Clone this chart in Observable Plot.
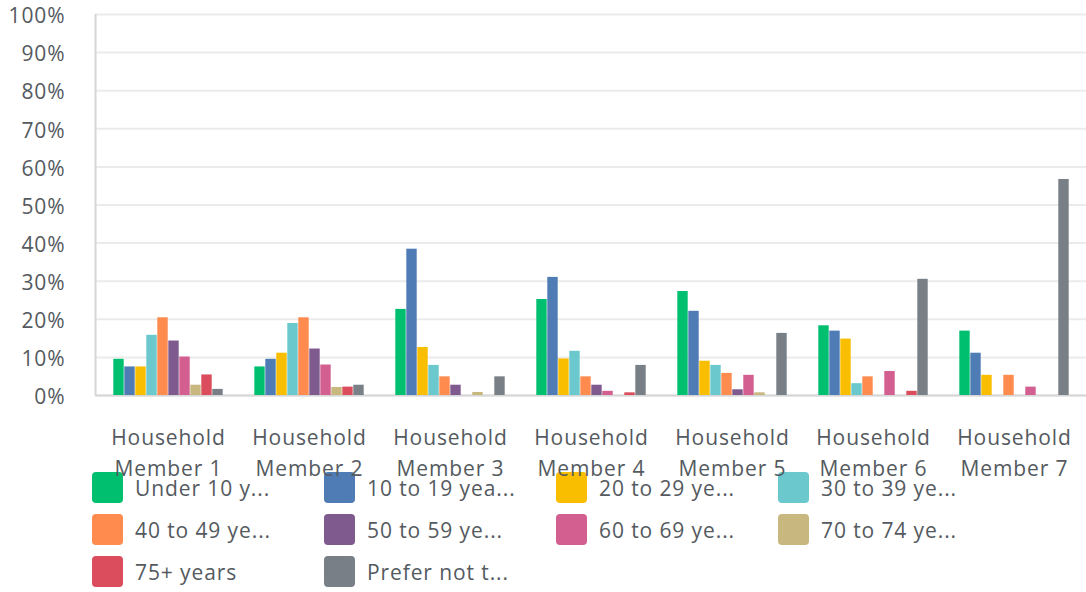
<!DOCTYPE html>
<html>
<head>
<meta charset="utf-8">
<script src="https://cdn.jsdelivr.net/npm/d3@7"></script>
<script src="https://cdn.jsdelivr.net/npm/@observablehq/plot@0.6"></script>
<style>
  html, body { margin: 0; padding: 0; background: #fff; }
  #wrap { position: relative; width: 1086px; height: 592px; font-family: "Open Sans", sans-serif; }
  #bg, #fg { position: absolute; left: 0; top: 0; }
  #legend { position: absolute; left: 92px; top: 472px; display: grid; grid-template-columns: 232px 232px 222px 232px; grid-auto-rows: 42px; }
  .item { display: flex; align-items: center; height: 31px; }
  .sw { width: 31px; height: 31px; border-radius: 4px; margin-right: 12px; flex: none; }
  .lb { font-size: 21px; color: #545a60; white-space: nowrap; letter-spacing: 0.9px; }
</style>
</head>
<body>
<div id="wrap"><div id="bg"></div><div id="legend"></div><div id="fg"></div></div>
<script>
const members = ["Household Member 1", "Household Member 2", "Household Member 3", "Household Member 4", "Household Member 5", "Household Member 6", "Household Member 7"];
const ages = ["Under 10 years", "10 to 19 years", "20 to 29 years", "30 to 39 years", "40 to 49 years", "50 to 59 years", "60 to 69 years", "70 to 74 years", "75+ years", "Prefer not to say"];
const legendLabels = ["Under 10 y...", "10 to 19 yea...", "20 to 29 ye...", "30 to 39 ye...", "40 to 49 ye...", "50 to 59 ye...", "60 to 69 ye...", "70 to 74 ye...", "75+ years", "Prefer not t..."];
const colors = ["#00bf6f", "#507cb6", "#f9be00", "#6bc8cd", "#ff8b4f", "#7f5a8f", "#d25f90", "#c8b77e", "#db4d5c", "#787f86"];
const yTicks = [0, 0.1, 0.2, 0.3, 0.4, 0.5, 0.6, 0.7, 0.8, 0.9, 1];

// percent values per household member, in the order of `ages`
const member1 = [9.5, 7.5, 7.5, 15.8, 20.4, 14.3, 10.1, 2.7, 5.4, 1.6];
const member2 = [7.5, 9.5, 11.1, 18.9, 20.4, 12.2, 8.0, 2.1, 2.2, 2.7];
const member3 = [22.6, 38.4, 12.6, 7.9, 4.9, 2.7, 0, 0.8, 0, 4.9];
const member4 = [25.2, 31.0, 9.6, 11.6, 4.9, 2.7, 1.1, 0, 0.7, 7.9];
const member5 = [27.3, 22.1, 9.0, 7.9, 5.8, 1.5, 5.3, 0.7, 0, 16.3];
const member6 = [18.3, 16.9, 14.8, 3.1, 4.9, 0, 6.3, 0, 1.1, 30.5];
const member7 = [16.9, 11.1, 5.3, 0, 5.3, 0, 2.2, 0, 0, 56.7];

const series = [member1, member2, member3, member4, member5, member6, member7];
const data = [];
members.forEach((m, i) => ages.forEach((a, j) => data.push({member: m, age: a, value: series[i][j] / 100})));

const common = {
  width: 1086,
  height: 480,
  marginLeft: 95,
  marginRight: 0,
  marginTop: 14,
  marginBottom: 85,
  style: {fontFamily: "Open Sans, sans-serif", color: "#545a60", background: "transparent", overflow: "visible", letterSpacing: "0.9px"}
};

// background: continuous grid, baseline, left axis line and y tick labels
const bg = Plot.plot({
  ...common,
  x: {domain: [0, 1], axis: null},
  y: {domain: [0, 1], axis: null},
  marks: [
    Plot.gridY(yTicks, {stroke: "#ebebeb", strokeOpacity: 1, strokeWidth: 2}),
    Plot.ruleY([0], {stroke: "#d6d6d6", strokeWidth: 2}),
    Plot.ruleX([0], {stroke: "#d6d6d6", strokeWidth: 2}),
    Plot.axisY(yTicks, {tickFormat: d3.format(".0%"), tickSize: 0, tickPadding: 30, fontSize: 21, dy: 2, label: null})
  ]
});
document.getElementById("bg").appendChild(bg);

// foreground: grouped bars faceted by household member
const fg = Plot.plot({
  ...common,
  fx: {domain: members, paddingInner: 0.195, paddingOuter: 0.0975, axis: null, label: null},
  x: {domain: ages, padding: 0, axis: null},
  y: {domain: [0, 1], axis: null},
  color: {domain: ages, range: colors},
  marks: [
    Plot.barY(data, {fx: "member", x: "age", y: "value", fill: "age", insetLeft: 0.3, insetRight: 0.3}),
    Plot.axisFx({anchor: "bottom", tickSize: 0, tickPadding: 27, fontSize: 21, lineHeight: 1.5, label: null, tickFormat: d => d.replace(" Member", "\nMember")})
  ]
});
document.getElementById("fg").appendChild(fg);

const legend = document.getElementById("legend");
ages.forEach((a, i) => {
  const item = document.createElement("div");
  item.className = "item";
  item.innerHTML = `<div class="sw" style="background:${colors[i]}"></div><div class="lb">${legendLabels[i]}</div>`;
  legend.appendChild(item);
});
</script>
</body>
</html>
